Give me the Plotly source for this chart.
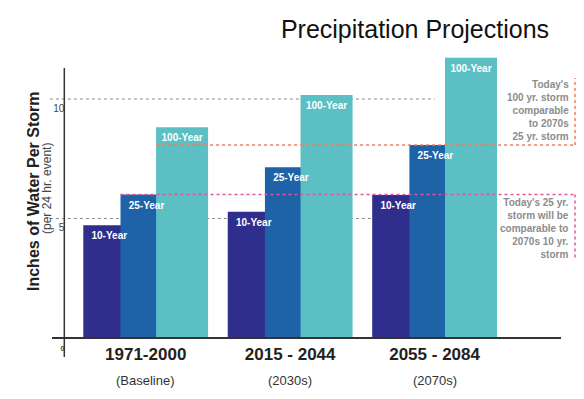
import plotly.graph_objects as go

# ---------------- data ----------------
categories = ["1971-2000", "2015 - 2044", "2055 - 2084"]
sublabels = ["(Baseline)", "(2030s)", "(2070s)"]
series_names = ["10-Year", "25-Year", "100-Year"]
ten_year = [4.72, 5.28, 5.98]
twentyfive_year = [6.0, 7.14, 8.08]
hundred_year = [8.82, 10.17, 11.73]
y_tick_vals = [0, 5, 10]
y_tick_labels = ["0", "5", "10"]
note_100 = "Today's<br>100 yr. storm<br>comparable<br>to 2070s<br>25 yr. storm"
note_25 = "Today's 25 yr.<br>storm will be<br>comparable to<br>2070s 10 yr.<br>storm"
title_text = "Precipitation Projections"
y_title = "Inches of Water Per Storm"
y_subtitle = "(per 24 hr. event)"

# ---------------- styling ----------------
FONT = "Liberation Sans, Arial, sans-serif"
colors = ["#302e8d", "#1e62a8", "#5bbfc4"]
offsets = [-0.432, -0.1745, 0.072]
bar_w = 0.36
x_range = [-0.6487, 2.9928]
y_range = [0, 11.883]

x_idx = list(range(len(categories)))
values = [ten_year, twentyfive_year, hundred_year]

fig = go.Figure()
for name, vals, col, off in zip(series_names, values, colors, offsets):
    fig.add_trace(go.Bar(
        x=x_idx, y=vals, name=name, marker=dict(color=col, line=dict(width=0)),
        offset=off, width=bar_w, hoverinfo="skip", showlegend=False,
    ))
# bar labels on top of all bars
for name, vals, off in zip(series_names, values, offsets):
    fig.add_trace(go.Scatter(
        x=[i + off + bar_w / 2 for i in x_idx], y=vals, mode="markers+text",
        text=[name] * len(vals), textposition="bottom center",
        marker=dict(size=9, opacity=0),
        textfont=dict(family=FONT, size=10, color="white", weight="bold"),
        cliponaxis=False, hoverinfo="skip", showlegend=False,
    ))

shapes = []
# dotted gridlines (behind bars)
for v in [5, 10]:
    shapes.append(dict(type="line", xref="paper", yref="y",
                       x0=-0.004, x1=(2 - x_range[0]) / (x_range[1] - x_range[0]),
                       y0=v, y1=v, layer="below",
                       line=dict(color="#8a8a8a", width=1, dash="dot")))
# axes lines
shapes.append(dict(type="line", xref="paper", yref="paper", x0=0, x1=0.9677,
                   y0=0, y1=0, line=dict(color="#333333", width=2)))
shapes.append(dict(type="line", xref="x", yref="paper", x0=-0.5635, x1=-0.5635,
                   y0=-0.067, y1=0.951, line=dict(color="#333333", width=1.5)))
# comparison lines
orange = "#f07f5c"
pink = "#e0589c"
x_end = 2.972
shapes.append(dict(type="line", xref="x", yref="y", x0=0 + offsets[2], x1=x_end,
                   y0=twentyfive_year[2], y1=twentyfive_year[2],
                   line=dict(color=orange, width=1.5, dash="dot")))
shapes.append(dict(type="line", xref="x", yref="y", x0=x_end, x1=x_end,
                   y0=twentyfive_year[2], y1=10.88,
                   line=dict(color=orange, width=1.5, dash="dot")))
shapes.append(dict(type="line", xref="x", yref="y", x0=0 + offsets[1], x1=x_end,
                   y0=twentyfive_year[0], y1=twentyfive_year[0],
                   line=dict(color=pink, width=1.5, dash="dot")))
shapes.append(dict(type="line", xref="x", yref="y", x0=x_end, x1=x_end,
                   y0=twentyfive_year[0], y1=3.3,
                   line=dict(color=pink, width=1.5, dash="dot")))

annotations = []
for i, s in zip(x_idx, sublabels):
    annotations.append(dict(x=i, y=-0.148, xref="x", yref="paper", text=s,
                            showarrow=False, xanchor="center", yanchor="middle",
                            font=dict(family=FONT, size=13, color="#333333")))
annotations.append(dict(x=0.9867, y=(338 - 111) / 284, xref="paper", yref="paper",
                        text=note_100, showarrow=False, xanchor="right", yanchor="middle",
                        align="right",
                        font=dict(family=FONT, size=10, color="#8c8c8c", weight="bold")))
annotations.append(dict(x=0.9867, y=(338 - 228) / 284, xref="paper", yref="paper",
                        text=note_25, showarrow=False, xanchor="right", yanchor="middle",
                        align="right",
                        font=dict(family=FONT, size=10, color="#8c8c8c", weight="bold")))
annotations.append(dict(x=(33 - 52) / 526, y=(338 - 192) / 284, xref="paper", yref="paper",
                        text=y_title, showarrow=False, textangle=-90,
                        xanchor="center", yanchor="middle",
                        font=dict(family=FONT, size=16, color="#222222", weight="bold")))
annotations.append(dict(x=(47 - 52) / 526, y=(338 - 189) / 284, xref="paper", yref="paper",
                        text=y_subtitle, showarrow=False, textangle=-90,
                        xanchor="center", yanchor="middle",
                        font=dict(family=FONT, size=12, color="#444444")))

y_ticktext = [("<span style='font-size:7px'><b>%s</b></span>" % t) if v == 0 else t
              for v, t in zip(y_tick_vals, y_tick_labels)]

fig.update_layout(
    width=584, height=399,
    margin=dict(l=52, r=6, t=54, b=61),
    paper_bgcolor="white", plot_bgcolor="white",
    barmode="overlay",
    title=dict(text=title_text, xref="container", x=415 / 584, xanchor="center",
               yref="container", y=1 - 29 / 399, yanchor="middle",
               font=dict(family=FONT, size=25, color="#111111")),
    xaxis=dict(range=x_range, tickvals=x_idx, ticktext=categories,
               showgrid=False, zeroline=False, showline=False, ticks="",
               ticklabelstandoff=4,
               tickfont=dict(family=FONT, size=17, color="#222222", weight="bold")),
    yaxis=dict(range=y_range, tickvals=y_tick_vals, ticktext=y_ticktext,
               anchor="free", position=(64.3 - 52) / 526,
               showgrid=False, zeroline=False, showline=False, ticks="",
               ticklabelshift=9,
               tickfont=dict(family=FONT, size=10, color="#444444")),
    shapes=shapes, annotations=annotations,
    showlegend=False,
)

fig.write_html("out.html", config={"displayModeBar": False},
               post_script="document.body.style.margin='0px';")
